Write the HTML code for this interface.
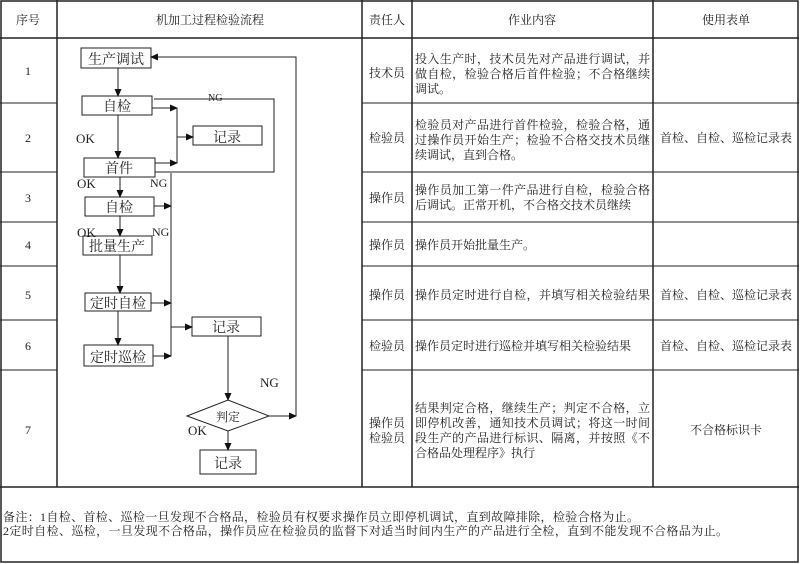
<!DOCTYPE html>
<html><head><meta charset="utf-8"><style>
html,body{margin:0;padding:0;background:#fff;width:800px;height:564px;overflow:hidden}
svg text{font-family:"Liberation Serif","Noto Serif CJK SC",serif;fill:#222}
</style></head><body>
<svg width="800" height="564" viewBox="0 0 800 564" xmlns="http://www.w3.org/2000/svg">
<defs><marker id="a" markerWidth="8" markerHeight="8" refX="7" refY="4" orient="auto" markerUnits="userSpaceOnUse"><path d="M0,0.5 L8,4 L0,7.5z" fill="#111"/></marker></defs>
<g stroke="#222" stroke-width="1.5" fill="none">
<rect x="1" y="1" width="797" height="561"/>
<line x1="0" y1="38" x2="799" y2="38"/>
<line x1="0" y1="487" x2="799" y2="487"/>
<line x1="57" y1="0" x2="57" y2="487"/>
<line x1="362" y1="0" x2="362" y2="487"/>
<line x1="412" y1="0" x2="412" y2="487"/>
<line x1="653" y1="0" x2="653" y2="487"/>
<g stroke-width="1"><line x1="0" y1="103" x2="57" y2="103"/><line x1="362" y1="103" x2="799" y2="103"/>
<line x1="0" y1="172" x2="57" y2="172"/><line x1="362" y1="172" x2="799" y2="172"/>
<line x1="0" y1="222" x2="57" y2="222"/><line x1="362" y1="222" x2="799" y2="222"/>
<line x1="0" y1="266" x2="57" y2="266"/><line x1="362" y1="266" x2="799" y2="266"/>
<line x1="0" y1="320" x2="57" y2="320"/><line x1="362" y1="320" x2="799" y2="320"/>
<line x1="0" y1="370" x2="57" y2="370"/><line x1="362" y1="370" x2="799" y2="370"/></g>
</g>
<g stroke="#222" stroke-width="1" fill="none">
<rect x="81" y="48" width="70" height="20"/>
<rect x="82" y="96" width="70" height="19"/>
<rect x="193" y="126" width="69" height="19"/>
<rect x="84" y="158" width="71" height="19"/>
<rect x="85" y="197" width="69" height="19"/>
<rect x="83" y="236" width="69" height="19"/>
<rect x="85" y="293" width="66" height="18"/>
<rect x="84" y="345" width="69" height="21"/>
<rect x="192" y="317" width="69" height="19"/>
<rect x="200" y="450" width="56" height="24"/>
<path d="M187,416 L228,400 L269,416 L228,431z"/>
<line x1="118" y1="68" x2="118" y2="96" marker-end="url(#a)"/>
<line x1="118" y1="115" x2="118" y2="158" marker-end="url(#a)"/>
<line x1="120" y1="177" x2="120" y2="197" marker-end="url(#a)"/>
<line x1="120" y1="216" x2="120" y2="236" marker-end="url(#a)"/>
<line x1="120" y1="255" x2="120" y2="293" marker-end="url(#a)"/>
<line x1="118" y1="311" x2="118" y2="345" marker-end="url(#a)"/>
<polyline points="154,99 274,99 274,172 155,172"/>
<line x1="152" y1="108" x2="177" y2="108" marker-end="url(#a)"/>
<line x1="155" y1="163" x2="177" y2="163" marker-end="url(#a)"/>
<line x1="177" y1="108" x2="177" y2="163"/>
<line x1="177" y1="137" x2="193" y2="137" marker-end="url(#a)"/>
<line x1="171" y1="173" x2="171" y2="356"/>
<line x1="154" y1="206" x2="171" y2="206" marker-end="url(#a)"/>
<line x1="151" y1="303" x2="171" y2="303" marker-end="url(#a)"/>
<line x1="153" y1="356" x2="171" y2="356" marker-end="url(#a)"/>
<line x1="171" y1="327" x2="192" y2="327" marker-end="url(#a)"/>
<line x1="228" y1="336" x2="228" y2="400" marker-end="url(#a)"/>
<line x1="228" y1="431" x2="228" y2="450" marker-end="url(#a)"/>
<line x1="269" y1="416" x2="296" y2="416" marker-end="url(#a)"/>
<polyline points="296,416 296,57 151,57" marker-end="url(#a)"/>
</g>
<g font-size="12" text-anchor="middle">
<text x="28" y="24">序号</text><text x="210" y="24">机加工过程检验流程</text><text x="387" y="24">责任人</text><text x="532" y="24">作业内容</text><text x="726" y="24">使用表单</text>
<text x="28" y="75">1</text><text x="28" y="142">2</text><text x="28" y="202">3</text><text x="28" y="249">4</text><text x="28" y="299">5</text><text x="28" y="350">6</text><text x="28" y="434">7</text>
<text x="387" y="77">技术员</text><text x="387" y="142">检验员</text><text x="387" y="202">操作员</text><text x="387" y="249">操作员</text><text x="387" y="299">操作员</text><text x="387" y="350">检验员</text>
<text x="387" y="427">操作员</text><text x="387" y="442">检验员</text>
<text x="726" y="142">首检、自检、巡检记录表</text><text x="726" y="299">首检、自检、巡检记录表</text><text x="726" y="350">首检、自检、巡检记录表</text><text x="726" y="434">不合格标识卡</text>
</g>
<g font-size="12">
<text x="415" y="63" textLength="235">投入生产时，技术员先对产品进行调试，并</text>
<text x="415" y="78" textLength="235">做自检，检验合格后首件检验；不合格继续</text>
<text x="415" y="93">调试。</text>
<text x="415" y="129" textLength="235">检验员对产品进行首件检验，检验合格，通</text>
<text x="415" y="144" textLength="235">过操作员开始生产；检验不合格交技术员继</text>
<text x="415" y="159">续调试，直到合格。</text>
<text x="415" y="194" textLength="235">操作员加工第一件产品进行自检，检验合格</text>
<text x="415" y="209">后调试。正常开机，不合格交技术员继续</text>
<text x="415" y="249">操作员开始批量生产。</text>
<text x="415" y="299" textLength="235">操作员定时进行自检，并填写相关检验结果</text>
<text x="415" y="350">操作员定时进行巡检并填写相关检验结果</text>
<text x="415" y="412" textLength="235">结果判定合格，继续生产；判定不合格，立</text>
<text x="415" y="427" textLength="235">即停机改善，通知技术员调试；将这一时间</text>
<text x="415" y="442" textLength="235">段生产的产品进行标识、隔离，并按照《不</text>
<text x="415" y="457">合格品处理程序》执行</text>
<text x="3" y="521" textLength="636">备注：1自检、首检、巡检一旦发现不合格品，检验员有权要求操作员立即停机调试，直到故障排除，检验合格为止。</text>
<text x="3" y="535" textLength="725">2定时自检、巡检，一旦发现不合格品，操作员应在检验员的监督下对适当时间内生产的产品进行全检，直到不能发现不合格品为止。</text>
</g>
<g font-size="14" text-anchor="middle">
<text x="116" y="64">生产调试</text><text x="117" y="111">自检</text><text x="227" y="142">记录</text><text x="119" y="173">首件</text>
<text x="119" y="212">自检</text><text x="117" y="251">批量生产</text><text x="118" y="308">定时自检</text><text x="118" y="362">定时巡检</text>
<text x="226" y="332">记录</text><text x="228" y="468">记录</text>
</g>
<text x="228" y="421" font-size="12" text-anchor="middle">判定</text>
<g font-size="13" font-family="Liberation Serif">
<text x="76" y="143">OK</text><text x="77" y="188">OK</text><text x="150" y="187" font-size="12">NG</text>
<text x="77" y="237">OK</text><text x="152" y="236" font-size="12">NG</text>
<text x="208" y="101" font-size="10">NG</text>
<text x="260" y="387">NG</text><text x="188" y="435">OK</text>
</g>
</svg>
</body></html>
